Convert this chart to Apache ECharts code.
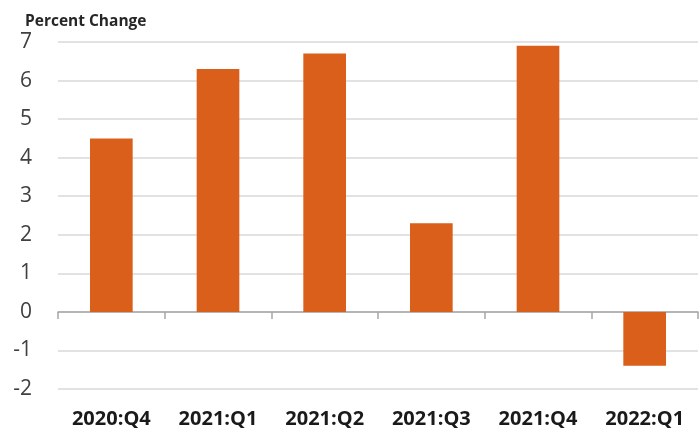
<!DOCTYPE html>
<html>
<head>
<meta charset="utf-8">
<script src="https://cdn.jsdelivr.net/npm/echarts@6/dist/echarts.min.js"></script>
<style>
  html, body { margin: 0; padding: 0; background: #fff; }
  #chart { width: 700px; height: 430px; }
</style>
</head>
<body>
<div id="chart"></div>
<script>
var quarters = ['2020:Q4', '2021:Q1', '2021:Q2', '2021:Q3', '2021:Q4', '2022:Q1'];
var pctChange = [4.5, 6.3, 6.7, 2.3, 6.9, -1.4];
var yTicks = [-2, -1, 0, 1, 2, 3, 4, 5, 6, 7];

var chart = echarts.init(document.getElementById('chart'));

var option = {
    animation: false,
    title: {
        text: 'Percent Change',
        left: 20,
        top: 9,
        textStyle: {
            fontFamily: 'Open Sans',
            fontSize: 15.5,
            fontWeight: 'bold',
            color: '#262626'
        }
    },
    grid: { left: 58, right: 2, top: 42, bottom: 41 },
    xAxis: [
        {
            type: 'category',
            data: quarters,
            axisLine: { onZero: true, lineStyle: { color: '#a6a6a6', width: 1.5 } },
            axisTick: { show: true, length: 7, lineStyle: { color: '#a6a6a6', width: 1.5 } },
            axisLabel: { show: false }
        },
        {
            type: 'category',
            data: quarters,
            position: 'bottom',
            axisLine: { show: false },
            axisTick: { show: false },
            axisLabel: {
                margin: 20,
                fontFamily: 'Open Sans',
                fontSize: 20,
                fontWeight: 'bold',
                color: '#1a1a1a'
            }
        }
    ],
    yAxis: {
        type: 'value',
        min: yTicks[0],
        max: yTicks[yTicks.length - 1],
        interval: 1,
        axisLine: { show: false },
        axisTick: { show: false },
        axisLabel: {
            margin: 26,
            fontFamily: 'Open Sans',
            fontSize: 21,
            color: '#404040'
        },
        splitLine: { lineStyle: { color: '#d9d9d9', width: 1.5 } }
    },
    series: [
        {
            name: 'Percent Change',
            type: 'bar',
            xAxisIndex: 0,
            data: pctChange,
            barCategoryGap: '60%',
            itemStyle: { color: '#d95f1a' }
        }
    ]
};

chart.setOption(option);
</script>
</body>
</html>
